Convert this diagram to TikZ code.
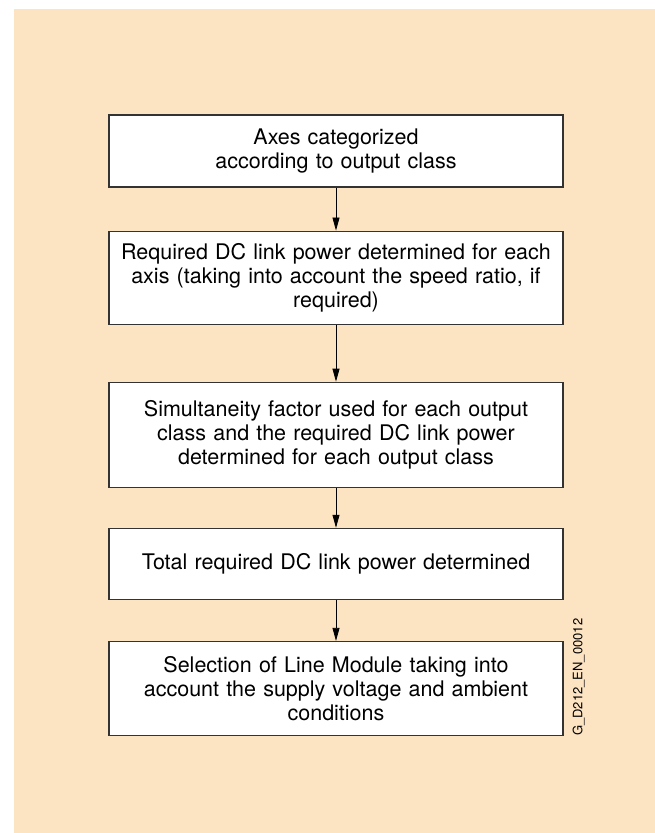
\documentclass[tikz,border=0pt]{standalone}
\usepackage{fontspec}
\setmainfont{TeX Gyre Heros}
\usepackage{tikz}
\usetikzlibrary{arrows.meta,positioning}
\definecolor{sand}{HTML}{FCE3C2}
\definecolor{edge}{HTML}{333333}

\begin{document}
\begin{tikzpicture}[x=1pt,y=1pt,
  box/.style={draw=edge,fill=white,line width=1.1pt,align=center,
    text width=450pt,minimum width=454pt,inner sep=0pt,
    font=\fontsize{21.5}{24}\selectfont},
  arrow/.style={-{Triangle[length=13pt,width=7pt]},line width=0.8pt,black}]
\useasboundingbox (0,0) rectangle (655,-833);
\fill[sand] (14,-9) rectangle (655,-833);
\node[box,minimum height=72pt] (cat) at (336,-151) {Axes categorized\\according to output class};
\node[box,minimum height=93pt,below=43pt of cat] (axis) {Required DC link power determined for each\\axis (taking into account the speed ratio, if\\required)};
\node[box,minimum height=105pt,below=57pt of axis] (simul) {Simultaneity factor used for each output\\class and the required DC link power\\determined for each output class};
\node[box,minimum height=71pt,below=40pt of simul] (total) {Total required DC link power determined};
\node[box,minimum height=94pt,below=41pt of total] (line) {Selection of Line Module taking into\\account the supply voltage and ambient\\conditions};
\node[rotate=90,anchor=north west,inner sep=0pt,font=\fontsize{13}{15}\selectfont]
  (code) at ([xshift=9pt]line.south east) {G\_D212\_EN\_00012};
\draw[arrow] (cat)--(axis);
\draw[arrow] (axis)--(simul);
\draw[arrow] (simul)--(total);
\draw[arrow] (total)--(line);
\end{tikzpicture}
\end{document}
